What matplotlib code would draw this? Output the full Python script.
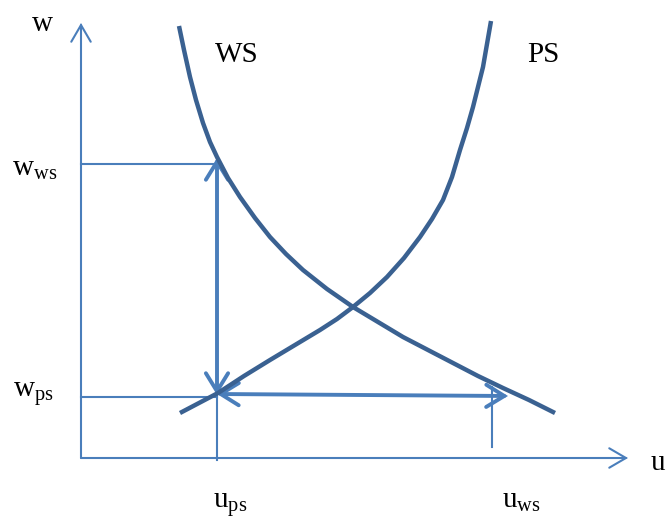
import matplotlib
matplotlib.use("Agg")
import matplotlib.pyplot as plt
from matplotlib.patches import FancyArrowPatch

plt.rcParams['font.family'] = ['Liberation Serif', 'DejaVu Serif']
plt.rcParams['mathtext.fontset'] = 'custom'
plt.rcParams['mathtext.rm'] = 'Liberation Serif'
plt.rcParams['mathtext.it'] = 'Liberation Serif'

# curve points (origin at the axes corner)
ws_u = [99, 104, 110, 116, 123, 130, 137, 148, 160, 175, 190, 206, 223, 247,
        273, 298, 323, 348, 373, 398, 423, 449, 475]
ws_w = [432, 408, 381, 358, 335, 316, 301, 280, 261, 240, 221, 204, 188, 169,
        151, 136, 121, 108, 95, 82, 70, 58, 45]
ps_u = [100, 119, 138, 164, 190, 215, 240, 257, 273, 290, 307, 324, 340, 352,
        363, 372, 380, 387, 393, 398, 403, 407, 411]
ps_w = [45, 55, 65, 82, 98, 113, 128, 139, 151, 165, 181, 200, 221, 239,
        258, 281, 308, 330, 351, 371, 391, 414, 437]

w_ws, w_ps = 294, 61
u_ps, u_ws = 137, 412

curve_col = '#3A6191'
line_col = '#4A7EBB'

fig = plt.figure(figsize=(6.69, 5.22), dpi=100)
ax = fig.add_axes([0, 0, 1, 1])
ax.set_xlim(-80, 589)
ax.set_ylim(-64, 458)
ax.axis('off')


def arrow(p0, p1, style, lw, col, hl=12, hw=7):
    a = FancyArrowPatch(p0, p1, arrowstyle=f'{style},head_length={hl},head_width={hw}',
                        mutation_scale=1, lw=lw, color=col,
                        shrinkA=0, shrinkB=0, capstyle='round', joinstyle='miter')
    ax.add_patch(a)


# axes
arrow((1, 0), (548, 0), '->', 1.5, line_col)
arrow((1, 0), (1, 435), '->', 1.5, line_col)

# guide lines
ax.plot([1, u_ps], [w_ws, w_ws], color=line_col, lw=1.5)
ax.plot([1, u_ps], [w_ps, w_ps], color=line_col, lw=1.5)
ax.plot([u_ps, u_ps], [-2, w_ws], color=line_col, lw=1.5)
ax.plot([u_ws, u_ws], [11, 71], color=line_col, lw=1.5)

# curves
ax.plot(ws_u, ws_w, color=curve_col, lw=3.2, solid_capstyle='butt', solid_joinstyle='round')
ax.plot(ps_u, ps_w, color=curve_col, lw=3.2, solid_capstyle='butt', solid_joinstyle='round')

# thick arrows
arrow((u_ps, w_ps + 2), (u_ps, w_ws + 6), '<->', 2.8, line_col, 13, 8)
arrow((u_ps, w_ps + 3), (428, w_ps + 1), '<->', 2.8, line_col, 13, 8)

# labels
fs = 21
ax.text(-38, 434, 'w', fontsize=fs, ha='center', va='center')
ax.text(157, 403, 'WS', fontsize=fs, ha='center', va='center')
ax.text(463, 403, 'PS', fontsize=fs, ha='center', va='center')
ax.text(578, -5, 'u', fontsize=fs, ha='center', va='center')
ax.text(-68, 282, r'$\mathrm{w_{ws}}$', fontsize=fs, ha='left', va='baseline')
ax.text(-67, 61, r'$\mathrm{w_{ps}}$', fontsize=fs, ha='left', va='baseline')
ax.text(133, -50, r'$\mathrm{u_{ps}}$', fontsize=fs, ha='left', va='baseline')
ax.text(422, -50, r'$\mathrm{u_{ws}}$', fontsize=fs, ha='left', va='baseline')

fig.savefig('out.png', dpi=100)
